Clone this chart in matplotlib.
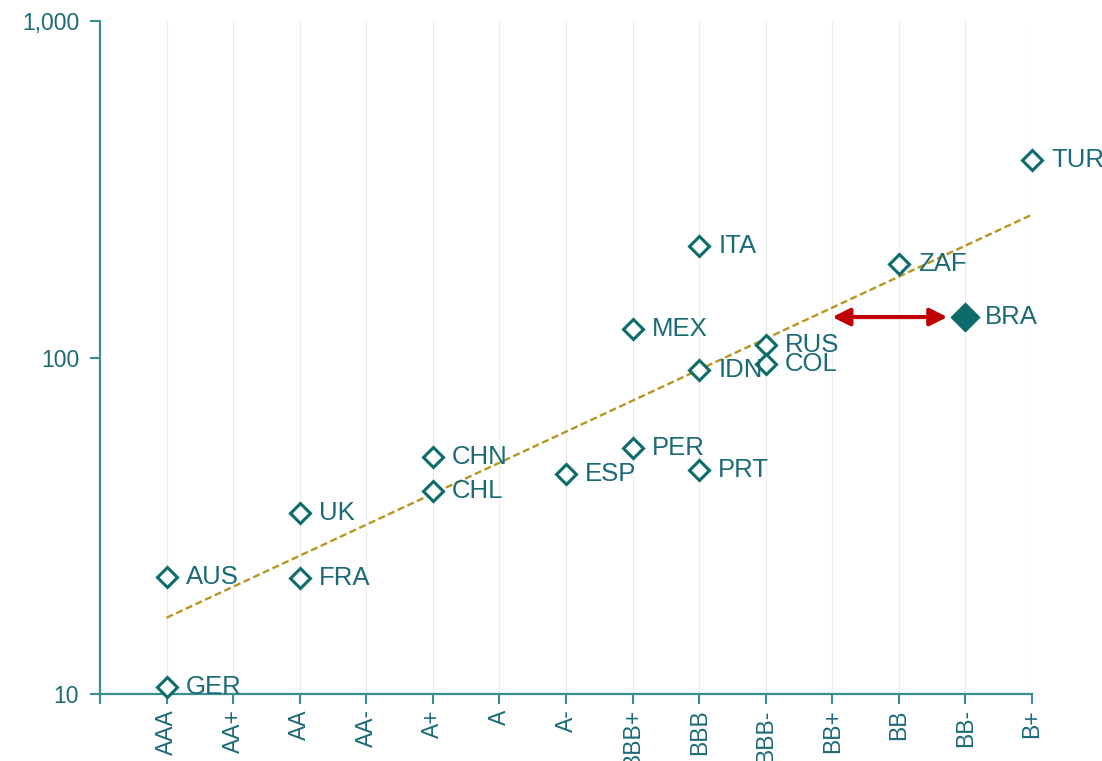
import numpy as np
import matplotlib
matplotlib.use("Agg")
import matplotlib.pyplot as plt
from matplotlib.ticker import FixedLocator, NullLocator

# Rating scale on the x axis
ratings = ["AAA", "AA+", "AA", "AA-", "A+", "A", "A-", "BBB+", "BBB",
           "BBB-", "BB+", "BB", "BB-", "B+"]

# Countries, their rating and CDS spread (bp)
countries = ["GER", "AUS", "UK", "FRA", "CHN", "CHL", "ESP", "MEX", "PER",
             "ITA", "IDN", "PRT", "RUS", "COL", "ZAF", "BRA", "TUR"]
country_rating = ["AAA", "AAA", "AA", "AA", "A+", "A+", "A-", "BBB+", "BBB+",
                  "BBB", "BBB", "BBB", "BBB-", "BBB-", "BB", "BB-", "B+"]
spreads = [10.5, 22.3, 34.5, 22.1, 50.6, 40.1, 45.1, 121.6, 53.8,
           214, 91.8, 46.3, 109, 95.7, 189.6, 131.9, 386]

highlight = "BRA"
implied_rating = "BB+"   # rating implied by BRA spread on the trend

teal = "#0d6b6b"
text_teal = "#1b6a78"
spine_teal = "#3a8e8e"
gold = "#b8961e"
red = "#c00000"

plt.rcParams["font.family"] = ["Liberation Sans", "DejaVu Sans"]

fig = plt.figure(figsize=(11.02, 7.61), dpi=100)
ax = fig.add_axes([0.0907, 0.088, 0.8458, 0.8844])

x = np.array([ratings.index(r) + 1 for r in country_rating])
y = np.array(spreads)

# Exponential trend (linear fit on log scale), all countries
b, a = np.polyfit(x, np.log10(y), 1)
xt = np.array([1, len(ratings)])
ax.plot(xt, 10 ** (a + b * xt), linestyle=(0, (3, 1.5)), color=gold,
        lw=1.7, zorder=2)

for c, xi, yi in zip(countries, x, y):
    filled = c == highlight
    ax.plot(xi, yi, marker="D", markersize=10 if not filled else 13,
            markerfacecolor=teal if filled else "white",
            markeredgecolor=teal, markeredgewidth=2.2, zorder=4,
            clip_on=False)
    ax.annotate(c, (xi, yi), xytext=(19, 0), textcoords="offset pixels",
                ha="left", va="center", fontsize=18.5, color=text_teal,
                zorder=5)

# Arrow showing gap between actual and implied rating
bi = countries.index(highlight)
ax.annotate("", xy=(ratings.index(implied_rating) + 1, y[bi]),
            xytext=(x[bi], y[bi]),
            arrowprops=dict(arrowstyle="<|-|>", color=red, lw=3,
                            mutation_scale=26, shrinkA=13, shrinkB=0),
            zorder=3)

ax.set_yscale("log")
ax.set_ylim(10, 1000)
ax.set_xlim(0, len(ratings))
ax.yaxis.set_major_locator(FixedLocator([10, 100, 1000]))
ax.yaxis.set_minor_locator(NullLocator())
ax.set_yticklabels(["10", "100", "1,000"])

ax.set_xticks(range(0, len(ratings) + 1))
ax.set_xticklabels([""] + ratings, rotation=90)
ax.grid(axis="x", color="#ececec", lw=0.8)
ax.set_axisbelow(True)

for s in ["top", "right"]:
    ax.spines[s].set_visible(False)
for s in ["left", "bottom"]:
    ax.spines[s].set_color(spine_teal)
    ax.spines[s].set_linewidth(1.6)

ax.tick_params(axis="both", colors=spine_teal, width=1.5, length=7,
               labelsize=16.5, labelcolor=text_teal)
ax.tick_params(axis="x", pad=4)
ax.tick_params(axis="y", pad=8)

fig.savefig("out.png", dpi=100)
